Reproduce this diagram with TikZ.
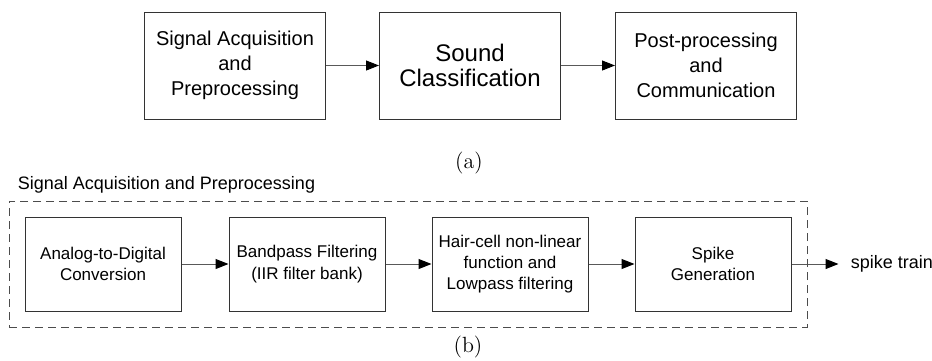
\documentclass[tikz,border=0pt]{standalone}
\usepackage{fontspec}
\newfontfamily\arialfont{Liberation Sans}
\usetikzlibrary{positioning,arrows.meta,fit}
\tikzset{
  bigblock/.style={draw=black!80,line width=0.5pt,minimum width=90.5pt,minimum height=53.5pt,
    inner sep=0pt,align=center,font=\arialfont\fontsize{10}{12.5}\selectfont},
  smallblock/.style={draw=black!80,line width=0.5pt,minimum width=78pt,minimum height=47pt,
    inner sep=0pt,align=center,font=\arialfont\fontsize{8.5}{10.6}\selectfont},
  groupframe/.style={draw=black!70,line width=0.5pt,dash pattern=on 4pt off 2.5pt,inner sep=7.75pt},
  flow/.style={-{Triangle[length=6.5pt,width=5pt,color=black]},draw=black!65,line width=0.5pt},
  plaintext/.style={inner sep=0pt,font=\arialfont\fontsize{9}{11}\selectfont},
  sublabel/.style={inner sep=0pt,font=\fontsize{11}{13}\selectfont}
}
\begin{document}
\begin{tikzpicture}[x=0.5pt,y=-0.5pt]
\useasboundingbox (0,0) rectangle (932,360);
% (a) overall system
\node[bigblock](acq)at(235,65.5){Signal Acquisition\\and\\Preprocessing};
\node[bigblock,right=26.5pt of acq,font=\arialfont\fontsize{12}{12.5}\selectfont](cls){Sound\\Classification};
\node[bigblock,right=27pt of cls](post){Post-processing\\and\\Communication};
\draw[flow](acq)--(cls);
\draw[flow](cls)--(post);
\node[sublabel](capa)at(469,163){(a)};
% (b) front end
\node[smallblock](adc)at(103,264){Analog-to-Digital\\Conversion};
\node[smallblock,right=23.5pt of adc](bpf){Bandpass Filtering\\(IIR filter bank)};
\node[smallblock,right=23pt of bpf](hair){Hair-cell non-linear\\function and\\Lowpass filtering};
\node[smallblock,right=23pt of hair](spk){Spike\\Generation};
\node[plaintext,anchor=west](out)at([xshift=29.5pt]spk.east){spike train};
\draw[flow](adc)--(bpf);
\draw[flow](bpf)--(hair);
\draw[flow](hair)--(spk);
\draw[flow,shorten >=6pt](spk)--(out);
\node[groupframe,fit=(adc)(spk)](group){};
\node[plaintext,anchor=west](grptitle)at([xshift=4.5pt,yshift=8pt]group.north west){Signal Acquisition and Preprocessing};
\node[sublabel](capb)at(468,347){(b)};
\end{tikzpicture}
\end{document}
